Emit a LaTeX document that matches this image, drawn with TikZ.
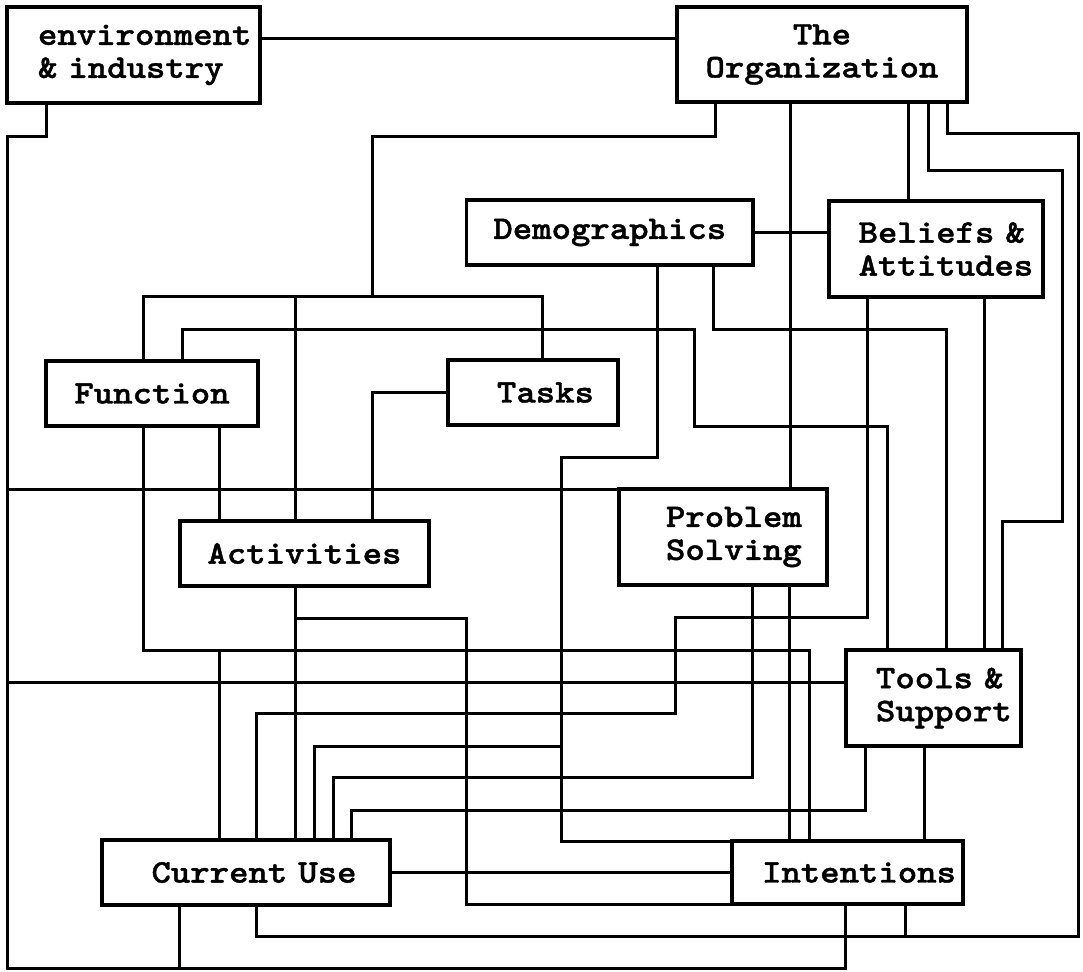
\documentclass[tikz,border=0pt]{standalone}
\usepackage{fontspec}
\usepackage{tikz}
\usetikzlibrary{positioning}
\newfontfamily\boxfont{lmmonolt10-bold}[Extension=.otf, FakeStretch=1.12, FakeBold=1.2]

\begin{document}
\begin{tikzpicture}[x=0.5pt, y=-0.5pt,
  box/.style={draw, black, line width=1.65pt, outer sep=0pt, inner ysep=0pt,
    font=\boxfont\fontsize{16.5}{16.5}\selectfont,
    execute at begin node={\hyphenpenalty=10000\relax}},
  lbox/.style 2 args={box, align=left, inner xsep=#1, text width=#2},
  wire/.style={black, line width=1.5pt}]
\useasboundingbox (0,0) rectangle (1083,971);

% boxes
\node[lbox={15.5pt}{95.5pt}, minimum height=48pt] (env) at (133.5,55) {environment\\\&~industry};
\node[box, align=center, minimum width=145pt, minimum height=47.5pt] (org) at (822,54.5) {The\\Organization};
\node[box, minimum width=143.2pt, minimum height=32.5pt] (dem) at (609.8,232.5) {Demographics};
\node[lbox={14.8pt}{77.4pt}, minimum height=48pt] (bel) at (936,249) {Beliefs~\&\\Attitudes};
\node[box, minimum width=106pt, minimum height=32.5pt] (fun) at (152,393.5) {Function};
\node[lbox={24.5pt}{36pt}, minimum height=32.5pt] (tas) at (533,392.5) {Tasks};
\node[box, minimum width=124.5pt, minimum height=32.5pt] (act) at (304.5,553.5) {Activities};
\node[lbox={23.5pt}{57pt}, minimum height=48pt] (pro) at (723,537) {Problem\\Solving};
\node[lbox={15pt}{57.5pt}, minimum height=48pt] (too) at (933.5,698) {Tools~\&\\Support};
\node[lbox={24.75pt}{94.5pt}, minimum height=32.5pt] (cur) at (246,872.5) {Current~Use};
\node[lbox={15pt}{85.5pt}, minimum height=31.5pt] (int) at (847.5,872.5) {Intentions};

% junctions
\coordinate (rail) at (7,136);
\coordinate (jbot) at (179,968);
\coordinate (jorg) at (372,296);
\coordinate (jact) at (295.5,296);
\coordinate (jfun) at (219.4,650);
\coordinate (jdem) at (561,746);
\coordinate (jacu) at (295.5,618);
\coordinate (jint) at (905,936);

% environment & industry
\draw[wire] (env.east |- 0,38) -- (org.west |- 0,38);
\draw[wire] (46.5,0 |- env.south) |- (rail) -- (rail |- jbot) -| (845.7,0 |- int.south);
\draw[wire] (rail |- pro.north) -- (pro.north west);
\draw[wire] (rail |- 0,682) -- (too.west |- 0,682);
% the organization
\draw[wire] (715,0 |- org.south) |- (372,136) -- (jorg);
\draw[wire] (143,0 |- fun.north) |- (542,296) -- (542,0 |- tas.north);
\draw[wire] (jact) -- (jact |- act.north);
\draw[wire] (790,0 |- org.south) -- (790,0 |- pro.north);
\draw[wire] (908,0 |- org.south) -- (908,0 |- bel.north);
\draw[wire] (928,0 |- org.south) |- (1062,170) |- (1002,521) -- (1002,0 |- too.north);
\draw[wire] (947,0 |- org.south) |- (1078,133) |- (256.5,936) -- (256.5,0 |- cur.south);
\draw[wire] (int.south -| jint) -- (jint);
% demographics
\draw[wire] (dem.east) -- (dem.east -| bel.west);
\draw[wire] (657.5,0 |- dem.south) |- (561,457) |- (int.north west);
\draw[wire] (jdem) -| (314,0 |- cur.north);
\draw[wire] (713,0 |- dem.south) |- (946.5,329) -- (946.5,0 |- too.north);
% beliefs & attitudes
\draw[wire] (867,0 |- bel.south) |- (675,617) |- (256.5,713) -- (256.5,0 |- cur.north);
\draw[wire] (984,0 |- bel.south) -- (984,0 |- too.north);
% function
\draw[wire] (182,0 |- fun.north) |- (694,329) |- (887,426) -- (887,0 |- too.north);
\draw[wire] (143,0 |- fun.south) |- (809,650) -- (809,0 |- int.north);
\draw[wire] (jfun) -- (jfun |- cur.north);
\draw[wire] (219.4,0 |- fun.south) -- (219.4,0 |- act.north);
% tasks
\draw[wire] (tas.west) -| (372,0 |- act.north);
% activities
\draw[wire] (295.5,0 |- act.south) -- (295.5,0 |- cur.north);
\draw[wire] (jacu) -| (466,0 |- int.south) -- (int.south west);
% problem solving
\draw[wire] (789,0 |- pro.south) -- (789,0 |- int.north);
\draw[wire] (752,0 |- pro.south) |- (333,777) -- (333,0 |- cur.north);
% tools & support
\draw[wire] (865.5,0 |- too.south) |- (351,810) -- (351,0 |- cur.north);
\draw[wire] (924.4,0 |- too.south) -- (924.4,0 |- int.north);
% current use
\draw[wire] (cur.east) -- (cur.east -| int.west);
\draw[wire] (cur.south -| jbot) -- (jbot);
\end{tikzpicture}
\end{document}
